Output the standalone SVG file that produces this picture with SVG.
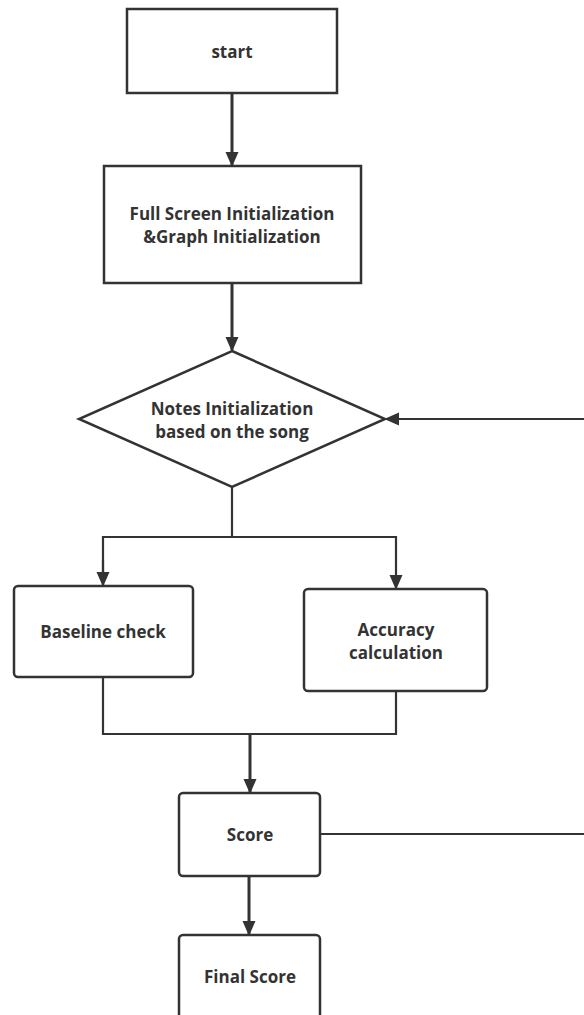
<svg xmlns="http://www.w3.org/2000/svg" width="584" height="1015" viewBox="0 0 584 1015">
<style>
.box{fill:#fff;stroke:#333;stroke-width:2.5}
.t{font-family:"Open Sans","Noto Sans",sans-serif;font-weight:bold;font-size:17px;fill:#333;text-anchor:middle}
.c{fill:none;stroke:#333;stroke-width:3}
.c2{fill:none;stroke:#333;stroke-width:2.2}
</style>
<defs>
<marker id="ah" markerWidth="15" markerHeight="17" refX="15" refY="7.5" orient="auto" markerUnits="userSpaceOnUse" viewBox="0 0 17 15">
<path d="M0,0 L17,7.5 L0,15 Z" fill="#333"/>
</marker>
</defs>
<rect width="584" height="1015" fill="#fff"/>
<g id="connectors">
<line class="c" x1="232" y1="93" x2="232" y2="165" marker-end="url(#ah)"/>
<line class="c" x1="232" y1="283" x2="232" y2="350" marker-end="url(#ah)"/>
<line class="c2" x1="584" y1="419" x2="386" y2="419" marker-end="url(#ah)"/>
<polyline class="c2" points="232,487 232,537"/>
<polyline class="c2" points="103,585 103,537 396,537 396,588" marker-end="url(#ah)"/>
<line class="c2" x1="103" y1="560" x2="103" y2="585" marker-end="url(#ah)"/>
<polyline class="c2" points="103,677 103,734 396,734 396,691"/>
<line class="c" x1="250" y1="734" x2="250" y2="792" marker-end="url(#ah)"/>
<line class="c2" x1="320" y1="834" x2="584" y2="834"/>
<line class="c" x1="249" y1="876" x2="249" y2="934" marker-end="url(#ah)"/>
</g>
<g id="start">
<rect class="box" x="127" y="9" width="210" height="84"/>
<text class="t" x="232" y="58">start</text>
</g>
<g id="init">
<rect class="box" x="104" y="166" width="257" height="117"/>
<text class="t" x="232" y="220">Full Screen Initialization</text>
<text class="t" x="232" y="243">&amp;Graph Initialization</text>
</g>
<g id="notes">
<polygon class="box" points="232,351 385,419 232,487 79,419"/>
<text class="t" x="232" y="415">Notes Initialization</text>
<text class="t" x="232" y="438">based on the song</text>
</g>
<g id="baseline">
<rect class="box" x="14" y="586" width="179" height="91" rx="4"/>
<text class="t" x="103" y="638">Baseline check</text>
</g>
<g id="accuracy">
<rect class="box" x="304" y="589" width="183" height="102" rx="4"/>
<text class="t" x="396" y="636">Accuracy</text>
<text class="t" x="396" y="659">calculation</text>
</g>
<g id="score">
<rect class="box" x="179" y="793" width="141" height="83" rx="4"/>
<text class="t" x="250" y="841">Score</text>
</g>
<g id="final">
<rect class="box" x="179" y="935" width="141" height="100" rx="4"/>
<text class="t" x="250" y="983">Final Score</text>
</g>
</svg>
